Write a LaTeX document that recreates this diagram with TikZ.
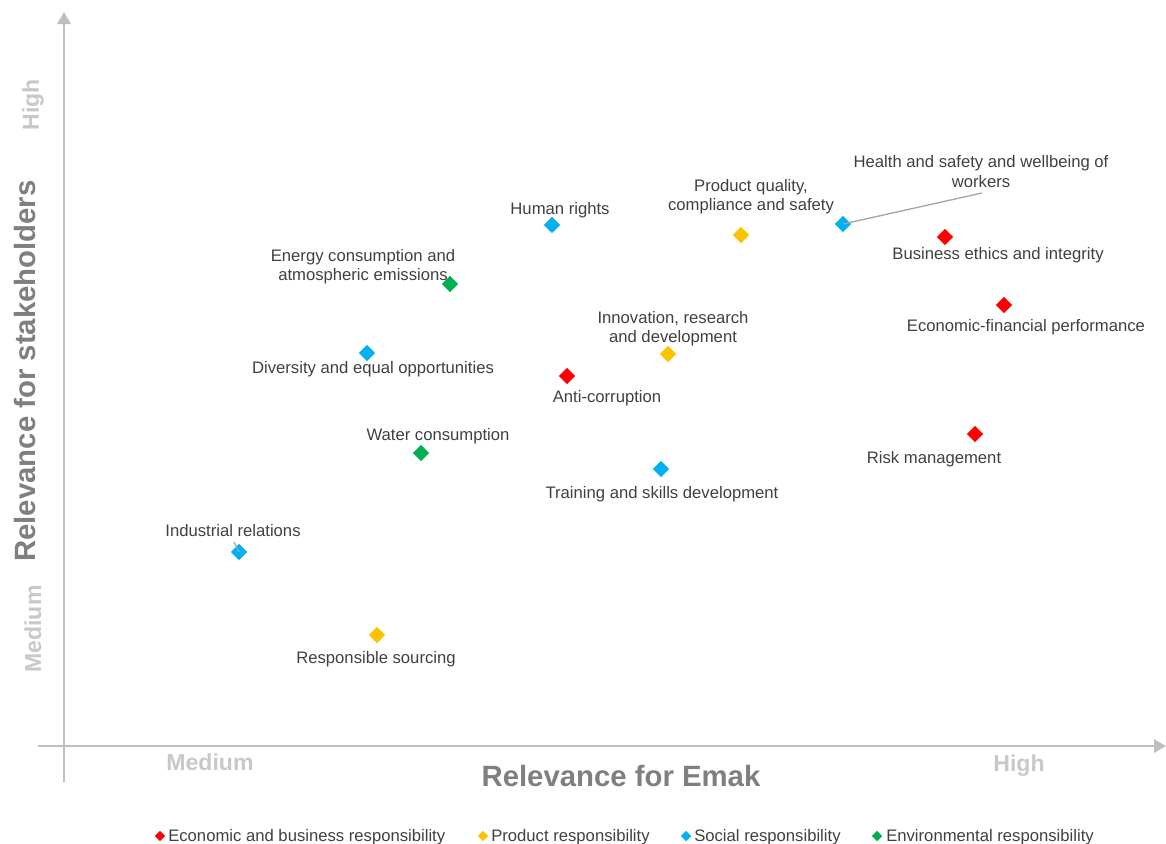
\documentclass[tikz,border=0pt]{standalone}
\usepackage{fontspec}
\setmainfont{Liberation Sans}
\usetikzlibrary{shapes.geometric,arrows.meta}
\definecolor{cred}{HTML}{FF0000}
\definecolor{cyel}{HTML}{FFC000}
\definecolor{cblu}{HTML}{00B0F0}
\definecolor{cgrn}{HTML}{00B050}
\definecolor{txt}{HTML}{404040}
\definecolor{axisc}{HTML}{BFBFBF}
\definecolor{lvl}{HTML}{C8C8C8}
\definecolor{ttl}{HTML}{7F7F7F}
\begin{document}
\begin{tikzpicture}[x=0.75pt,y=-0.75pt,
  mk/.style={diamond,draw=none,inner sep=0pt,minimum width=12.5pt,minimum height=12.5pt},
  lmk/.style={diamond,draw=none,inner sep=0pt,minimum width=8pt,minimum height=8pt},
  lbl/.style={text=txt,font=\fontsize{12.5}{14.5}\selectfont,align=center,inner sep=0pt},
  leg/.style={text=txt,font=\fontsize{12.5}{14.5}\selectfont,anchor=base west,inner sep=0pt},
  lvlt/.style={text=lvl,font=\fontsize{17.3}{20}\selectfont\bfseries,inner sep=0pt},
  ttlt/.style={text=ttl,font=\fontsize{22}{26}\selectfont\bfseries,inner sep=0pt},
  axis/.style={draw=axisc,line width=1.5pt,-{Triangle[length=9pt,width=10pt]}},
  lead/.style={draw=gray!70,line width=1pt}]
\useasboundingbox (0,0) rectangle (1166,843);
% axes
\coordinate (ys) at (64,782);
\coordinate (ye) at (64,12);
\coordinate (xs) at (38,746);
\coordinate (xe) at (1166,746);
\draw[axis] (ys) -- (ye);
\draw[axis] (xs) -- (xe);
% axis labels
\node[lvlt] (xmed) at (210,762) {Medium};
\node[lvlt] (xhigh) at (1019,766) {High};
\node[lvlt,rotate=90] (ymed) at (33,629) {Medium};
\node[lvlt,rotate=90] (yhigh) at (33,105) {High};
\node[ttlt] (xt) at (621,776) {Relevance for Emak};
\node[ttlt,rotate=90] (yt) at (25,371) {Relevance for stakeholders};
% markers
\node[mk,fill=cblu] (hr) at (552,225) {};
\node[mk,fill=cyel] (pq) at (741,235) {};
\node[mk,fill=cblu] (hs) at (843,224) {};
\node[mk,fill=cred] (be) at (945,237) {};
\node[mk,fill=cred] (ef) at (1004,305) {};
\node[mk,fill=cgrn] (en) at (450,284) {};
\node[mk,fill=cblu] (de) at (367,353) {};
\node[mk,fill=cyel] (in) at (668,354) {};
\node[mk,fill=cred] (ac) at (567,376) {};
\node[mk,fill=cgrn] (wc) at (421,453) {};
\node[mk,fill=cblu] (tr) at (661,469) {};
\node[mk,fill=cred] (rm) at (975,434) {};
\node[mk,fill=cblu] (ir) at (239,552) {};
\node[mk,fill=cyel] (rs) at (377,635) {};
% labels
\node[lbl] (lhr) at (560,210.5) {Human rights};
\node[lbl] (lpq) at (751,196.5) {Product quality,\\compliance and safety};
\node[lbl] (lhs) at (981,171.5) {Health and safety and wellbeing of\\workers};
\node[lbl] (lbe) at (998,255.5) {Business ethics and integrity};
\node[lbl] (lef) at (1026,327.5) {Economic-financial performance};
\node[lbl] (len) at (363,266.5) {Energy consumption and\\atmospheric emissions};
\node[lbl] (lde) at (373,369.5) {Diversity and equal opportunities};
\node[lbl] (lin) at (673,328.5) {Innovation, research\\and development};
\node[lbl] (lac) at (607,398.5) {Anti-corruption};
\node[lbl] (lwc) at (438,436.5) {Water consumption};
\node[lbl] (ltr) at (662,494.5) {Training and skills development};
\node[lbl] (lrm) at (934,459.5) {Risk management};
\node[lbl] (lir) at (233,530.5) {Industrial relations};
\node[lbl] (lrs) at (376,659.5) {Responsible sourcing};
% leader lines
\coordinate (hsend) at (982,193);
\draw[lead] (hs.center) -- (hsend);
\coordinate (irend) at (234,542);
\draw[lead] (irend) -- (ir.center);
% legend
\node[lmk,fill=cred] (g1) at (160,836) {};
\node[leg] (t1) at (168,841) {Economic and business responsibility};
\node[lmk,fill=cyel] (g2) at (483,836) {};
\node[leg] (t2) at (491,841) {Product responsibility};
\node[lmk,fill=cblu] (g3) at (686,836) {};
\node[leg] (t3) at (694,841) {Social responsibility};
\node[lmk,fill=cgrn] (g4) at (877,836) {};
\node[leg] (t4) at (886,841) {Environmental responsibility};
\end{tikzpicture}
\end{document}
